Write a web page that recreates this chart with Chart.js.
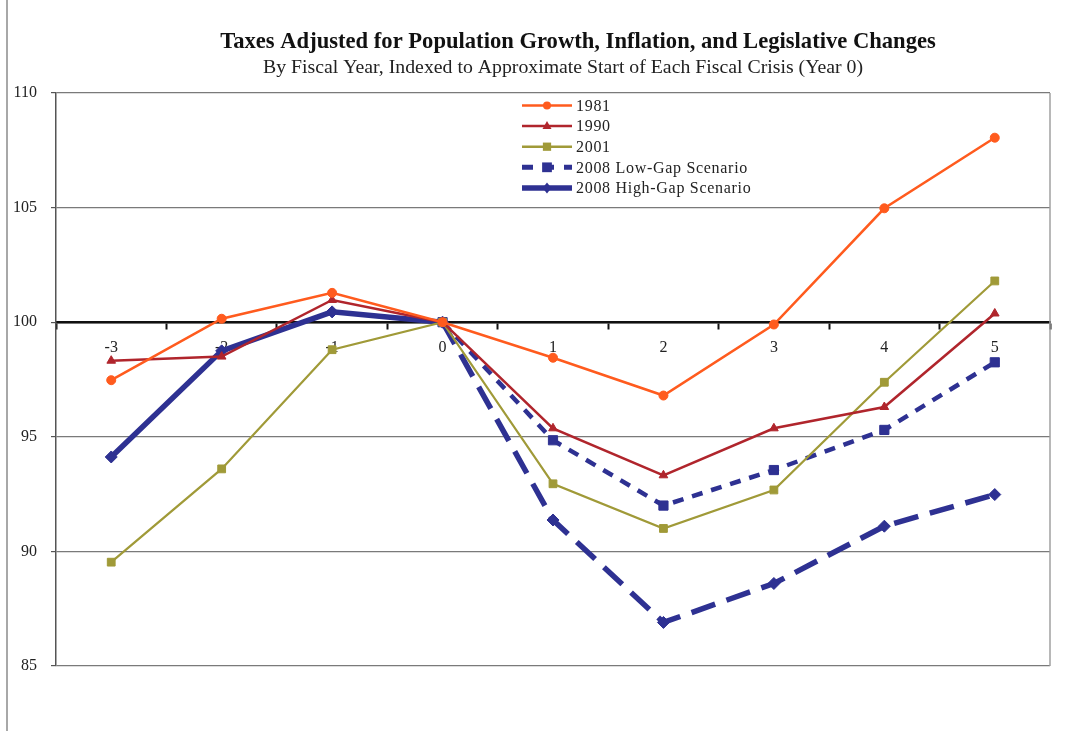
<!DOCTYPE html>
<html><head><meta charset="utf-8">
<script src="https://cdn.jsdelivr.net/npm/chart.js@4/dist/chart.umd.min.js"></script>
<style>html,body{margin:0;padding:0;background:#fff}#wrap{width:1071px;height:731px;position:relative}</style>
</head><body><div id="wrap"><canvas id="c" width="1071" height="731"></canvas></div>
<script>
const years = ['-3','-2','-1','0','1','2','3','4','5'];
const s1981 = [97.47, 100.15, 101.28, 100, 98.45, 96.8, 99.9, 104.97, 108.05];
const s1990 = [98.32, 98.5, 100.97, 100, 95.37, 93.32, 95.37, 96.3, 100.38];
const s2001 = [89.53, 93.6, 98.8, 100, 92.95, 91.0, 92.68, 97.38, 101.8];
const sLow  = [null, null, null, 100, 94.85, 92.0, 93.55, 95.3, 98.25];
const sHigh = [94.12, 98.75, 100.45, 100, 91.37, 86.9, 88.6, 91.1, 92.48];
const yTicks = [85, 90, 95, 100, 105, 110];
const titleText = 'Taxes Adjusted for Population Growth, Inflation, and Legislative Changes';
const subtitleText = 'By Fiscal Year, Indexed to Approximate Start of Each Fiscal Crisis (Year 0)';

const C1981 = '#FF5B1E', C1990 = '#B0252C', C2001 = '#A09A38', CNAVY = '#2E3192';
const SERIF = '"Liberation Serif", "Times New Roman", serif';

const legendItems = [
  {label:'1981', color:C1981, width:2.5, dash:[], style:'circle', r:4},
  {label:'1990', color:C1990, width:2.5, dash:[], style:'triangle', r:5},
  {label:'2001', color:C2001, width:2.5, dash:[], style:'rect', r:5.5},
  {label:'2008 Low-Gap Scenario', color:CNAVY, width:5, dash:[11,10], style:'rect', r:6.5},
  {label:'2008 High-Gap Scenario', color:CNAVY, width:5.5, dash:[], style:'rectRot', r:5.5}
];

function drawMarker(ctx, style, x, y, r){
  ctx.beginPath();
  if (style === 'circle') { ctx.arc(x, y, r, 0, Math.PI*2); }
  else if (style === 'triangle') { ctx.moveTo(x, y - r); ctx.lineTo(x + r*0.9, y + r*0.6); ctx.lineTo(x - r*0.9, y + r*0.6); ctx.closePath(); }
  else if (style === 'rect') { const s = r*0.75; ctx.rect(x - s, y - s, 2*s, 2*s); }
  else if (style === 'rectRot') { ctx.moveTo(x, y - r); ctx.lineTo(x + r*0.8, y); ctx.lineTo(x, y + r); ctx.lineTo(x - r*0.8, y); ctx.closePath(); }
  ctx.fill();
}

const decor = {
  id:'decor',
  beforeDraw(chart){
    const ctx = chart.ctx;
    ctx.save();
    ctx.fillStyle = '#fff';
    ctx.fillRect(0,0,chart.width,chart.height);
    ctx.strokeStyle = '#a8a8a8';
    ctx.lineWidth = 2;
    ctx.beginPath(); ctx.moveTo(7,0); ctx.lineTo(7,chart.height); ctx.stroke();
    ctx.restore();
  },
  afterDraw(chart){
    const ctx = chart.ctx, a = chart.chartArea;
    ctx.save();
    ctx.strokeStyle = '#a0a0a0'; ctx.lineWidth = 1.5;
    ctx.beginPath(); ctx.moveTo(a.right, a.top); ctx.lineTo(a.right, a.bottom); ctx.stroke();
    ctx.fillStyle = '#111';
    ctx.textAlign = 'center'; ctx.textBaseline = 'middle';
    ctx.font = 'bold 22.6px ' + SERIF;
    ctx.fillText(titleText, 578, 42);
    ctx.font = '19.8px ' + SERIF;
    ctx.fillStyle = '#222';
    ctx.fillText(subtitleText, 563, 68);
    const y0 = 105.5, dy = 20.6;
    legendItems.forEach((it, i) => {
      const y = y0 + i*dy;
      ctx.strokeStyle = it.color; ctx.lineWidth = it.width; ctx.setLineDash(it.dash);
      ctx.beginPath(); ctx.moveTo(522, y); ctx.lineTo(572, y); ctx.stroke();
      ctx.setLineDash([]);
      ctx.fillStyle = it.color;
      drawMarker(ctx, it.style, 547, y, it.r);
      ctx.fillStyle = '#222';
      ctx.font = '16px ' + SERIF;
      if ('letterSpacing' in ctx) ctx.letterSpacing = '0.7px';
      ctx.textAlign = 'left';
      ctx.fillText(it.label, 576, y + 1);
      if ('letterSpacing' in ctx) ctx.letterSpacing = '0px';
    });
    ctx.restore();
  }
};

function ds(label, data, color, width, style, r, extra){
  return Object.assign({
    label, data, borderColor: color, backgroundColor: color, borderWidth: width,
    pointStyle: style, pointRadius: r, pointHoverRadius: r, pointBorderWidth: 1,
    pointBackgroundColor: color, pointBorderColor: color, tension: 0, spanGaps: false
  }, extra || {});
}

new Chart(document.getElementById('c'), {
  type: 'line',
  data: {
    labels: years,
    datasets: [
      ds('2008 High-Gap Scenario', sHigh, CNAVY, 5.5, 'rectRot', 6, {
        segment: { borderDash: c => c.p0DataIndex >= 3 ? [25, 12] : [] }, order: 5 }),
      ds('2008 Low-Gap Scenario', sLow, CNAVY, 4.5, 'rect', 6.5, { borderDash: [11, 9], order: 4 }),
      ds('2001', s2001, C2001, 2.2, 'rect', 5.5, { order: 3 }),
      ds('1990', s1990, C1990, 2.5, 'triangle', 5, { order: 2 }),
      ds('1981', s1981, C1981, 2.5, 'circle', 4.5, { order: 1 })
    ]
  },
  options: {
    responsive: false, animation: false, devicePixelRatio: 1,
    layout: { padding: { left: 8, right: 21, top: 93, bottom: 65 } },
    plugins: { legend: { display: false }, title: { display: false }, tooltip: { enabled: false } },
    scales: {
      x: {
        type: 'category', position: { y: 100 }, offset: true,
        grid: { offset: true, drawOnChartArea: false, drawTicks: true, tickLength: 6, tickColor: '#111', tickWidth: 2 },
        border: { color: '#111', width: 2.5 },
        ticks: { color: '#222', font: { family: SERIF, size: 16 }, padding: 10, maxRotation: 0 }
      },
      y: {
        min: 85, max: 110,
        afterFit: s => { s.width = 48; },
        afterBuildTicks: s => { s.ticks = yTicks.map(v => ({ value: v })); },
        grid: { color: '#7a7a7a', lineWidth: 1.2, tickLength: 5, tickColor: '#555' },
        border: { color: '#555', width: 1.5 },
        ticks: { color: '#222', font: { family: SERIF, size: 16 }, padding: 14 }
      }
    }
  },
  plugins: [decor]
});
</script>
</body></html>
